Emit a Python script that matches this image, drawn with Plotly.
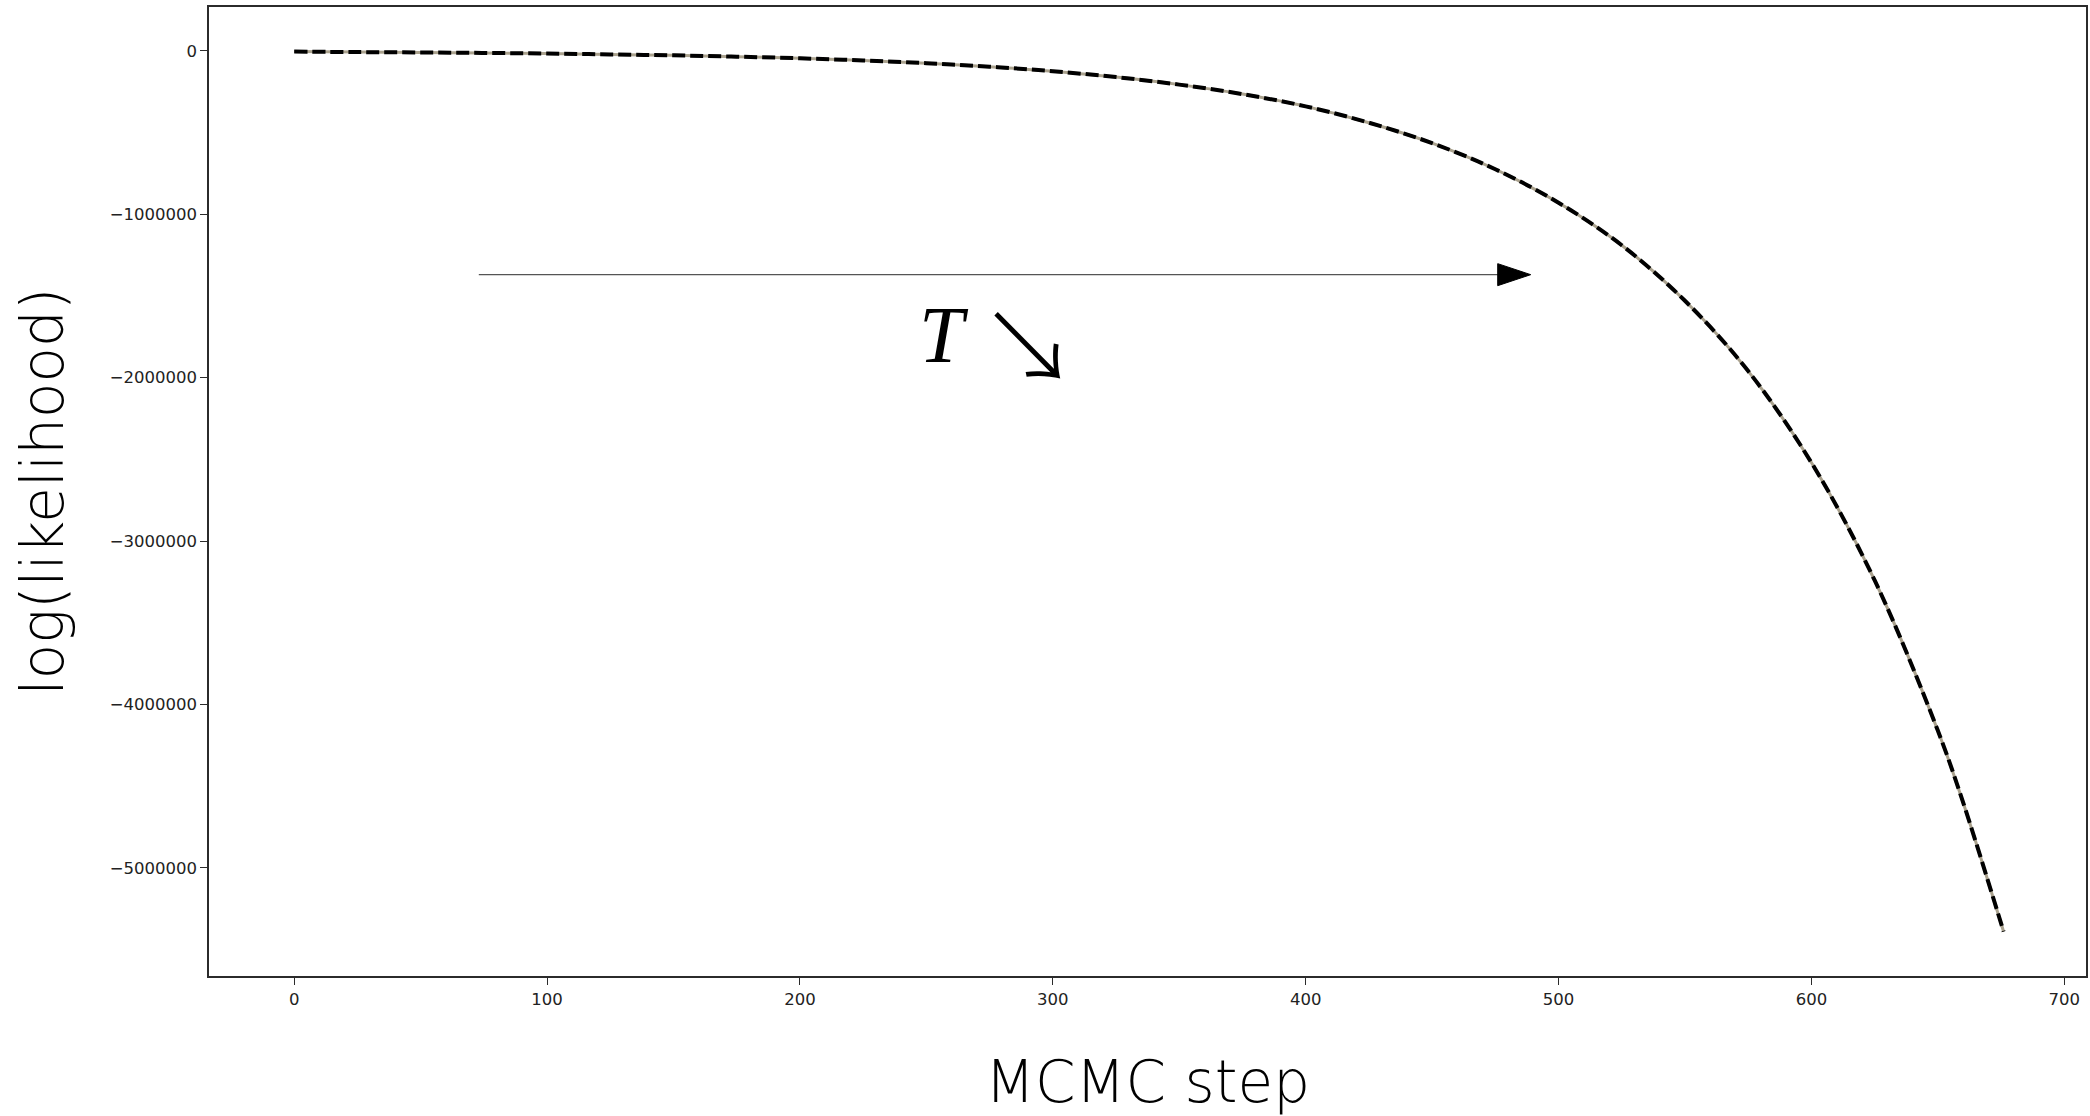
import plotly.graph_objects as go

# log-likelihood along the annealing chain
steps = [0, 25, 50, 75, 100, 125, 150, 175, 200, 225, 250, 275, 300, 325, 350,
         375, 400, 425, 450, 475, 500, 525, 550, 575, 600, 625, 650, 660, 676]
loglik = [-5000, -8000, -10000, -13000, -17000, -22000, -28000, -36000, -46000,
          -59000, -76000, -97000, -125000, -161000, -207000, -265000, -340000,
          -440000, -565000, -725000, -930000, -1190000, -1530000, -1960000,
          -2520000, -3240000, -4160000, -4600000, -5390000]

x_tick_vals = [0, 100, 200, 300, 400, 500, 600, 700]
x_tick_text = ["0", "100", "200", "300", "400", "500", "600", "700"]
y_tick_vals = [0, -1000000, -2000000, -3000000, -4000000, -5000000]
y_tick_text = ["0", "\u22121000000", "\u22122000000", "\u22123000000",
               "\u22124000000", "\u22125000000"]

# cooling-direction arrow and its label "T ↘"
arrow_x0, arrow_x1, arrow_y = 73, 489, -1370000
t_x, t_y = 257, -1740000
dir_x, dir_y = 290, -1770000

x_range = [-33.7, 708.6]
y_range = [-5662000, 268000]

AXIS = "#2b2b2b"
TEXT = "#222222"

fig = go.Figure()

fig.add_trace(go.Scatter(
    x=steps, y=loglik, mode="lines", line_shape="spline",
    line=dict(color="#aaa28e", width=3), showlegend=False, hoverinfo="skip"))
fig.add_trace(go.Scatter(
    x=steps, y=loglik, mode="lines", line_shape="spline",
    line=dict(color="black", width=4, dash="13px,5px"), showlegend=False))

# arrow shaft
fig.add_shape(type="line", xref="x", yref="y",
              x0=arrow_x0, x1=arrow_x1 - 6, y0=arrow_y, y1=arrow_y,
              line=dict(color="#555555", width=1.4))
# arrow head (pixel-sized, anchored at the tip)
fig.add_shape(type="path", xref="x", yref="y",
              xsizemode="pixel", ysizemode="pixel",
              xanchor=arrow_x1, yanchor=arrow_y,
              path="M -33,-11 L 0,0 L -33,11 Z",
              fillcolor="black", line=dict(color="black", width=1))

fig.add_annotation(
    x=t_x, y=t_y, xref="x", yref="y", showarrow=False,
    text="<i>T</i>",
    font=dict(family="Liberation Serif", size=80, color="black"),
    xanchor="center", yanchor="middle")
fig.add_annotation(
    x=dir_x, y=dir_y, xref="x", yref="y", showarrow=False,
    text="\u2198",
    font=dict(family="Noto Sans CJK SC", size=98, color="black", weight=200),
    xanchor="center", yanchor="middle")

fig.update_layout(
    width=2090, height=1116,
    margin=dict(l=209, r=2, t=7, b=140),
    paper_bgcolor="white", plot_bgcolor="white",
    font=dict(family="DejaVu Sans", color=TEXT),
    xaxis=dict(
        range=x_range, tickmode="array", tickvals=x_tick_vals, ticktext=x_tick_text,
        showgrid=False, zeroline=False, showline=True, mirror=True,
        linecolor=AXIS, linewidth=1.5, ticks="outside", ticklen=7,
        tickwidth=1.3, tickcolor=AXIS,
        tickfont=dict(family="DejaVu Sans", size=16.5, color=TEXT),
        title=dict(text="MCMC step", standoff=54,
                   font=dict(family="DejaVu Sans", size=58, color="black", weight=300))),
    yaxis=dict(
        range=y_range, tickmode="array", tickvals=y_tick_vals, ticktext=y_tick_text,
        showgrid=False, zeroline=False, showline=True, mirror=True,
        linecolor=AXIS, linewidth=1.5, ticks="outside", ticklen=7,
        tickwidth=1.3, tickcolor=AXIS,
        tickfont=dict(family="DejaVu Sans", size=16.5, color=TEXT),
        title=dict(text="log(likelihood)", standoff=27,
                   font=dict(family="DejaVu Sans", size=58, color="black", weight=300))),
)

fig.write_html("out.html")
